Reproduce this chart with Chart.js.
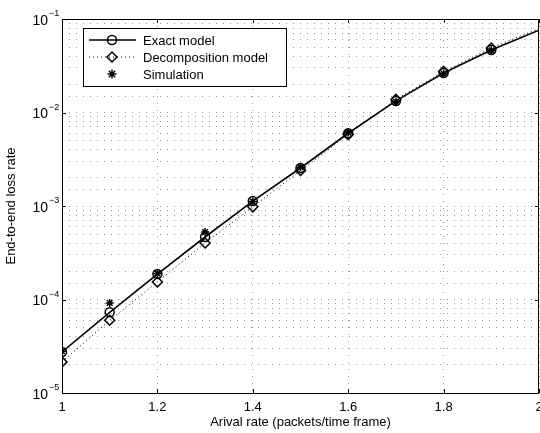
<!DOCTYPE html>
<html lang="en">
<head>
    <meta charset="UTF-8">
    <script src="https://cdn.jsdelivr.net/npm/chart.js"></script>
    <style>
        body {
            margin: 0;
            padding: 0;
            background: white;
        }

        #wrap {
            width: 540px;
            height: 433px;
        }
    </style>
    <title>End-to-end loss rate</title>
</head>
<body>
    <div id="wrap"><canvas id="lossChart" width="540" height="433"></canvas></div>
    <script>
        // arrival rate (packets/time frame)
        const arrivalRates = [1.0, 1.1, 1.2, 1.3, 1.4, 1.5, 1.6, 1.7, 1.8, 1.9, 2.0];

        // end-to-end loss rate per model
        const exactModel = [2.75e-5, 7.3e-5, 1.87e-4, 4.66e-4, 1.13e-3, 2.55e-3, 6.0e-3, 1.33e-2, 2.64e-2, 4.66e-2, 7.6e-2];
        const decompositionModel = [2.15e-5, 6.0e-5, 1.54e-4, 4.02e-4, 9.8e-4, 2.4e-3, 5.8e-3, 1.38e-2, 2.75e-2, 4.9e-2, 7.9e-2];
        const simulation = [2.8e-5, 9.2e-5, 1.9e-4, 5.26e-4, 1.12e-3, 2.6e-3, 6.1e-3, 1.3e-2, 2.6e-2, 4.6e-2, null];

        const seriesNames = ["Exact model", "Decomposition model", "Simulation"];
        const yDecades = [-5, -4, -3, -2, -1];
        const xTicks = [1, 1.2, 1.4, 1.6, 1.8, 2];

        const FONT = "'Liberation Sans', Arial, sans-serif";

        function toPoints(values) {
            return arrivalRates.map((x, i) => ({ x: x, y: values[i] }));
        }

        // no marker at the clipped right edge
        const markerRadius = arrivalRates.map(x => (x >= 2 ? 0 : 4.5));

        // frame, decade labels with superscripts, legend box
        const matlabLook = {
            id: "matlabLook",
            afterDraw(chart) {
                const ctx = chart.ctx;
                const area = chart.chartArea;
                const yScale = chart.scales.y;
                const xScale = chart.scales.x;

                ctx.save();
                ctx.strokeStyle = "#000";
                ctx.lineWidth = 1;
                ctx.strokeRect(area.left + 0.5, area.top + 0.5, area.right - area.left - 1, area.bottom - area.top);

                // short inward tick marks
                ctx.beginPath();
                xTicks.forEach(v => {
                    const px = Math.round(xScale.getPixelForValue(v)) + 0.5;
                    ctx.moveTo(px, area.bottom);
                    ctx.lineTo(px, area.bottom - 4);
                    ctx.moveTo(px, area.top);
                    ctx.lineTo(px, area.top + 4);
                });
                yDecades.forEach(e => {
                    const py = Math.round(yScale.getPixelForValue(Math.pow(10, e))) + 0.5;
                    ctx.moveTo(area.left, py);
                    ctx.lineTo(area.left + 4, py);
                    ctx.moveTo(area.right, py);
                    ctx.lineTo(area.right - 4, py);
                });
                ctx.stroke();

                // y tick labels: 10^n
                ctx.fillStyle = "#000";
                ctx.textBaseline = "middle";
                yDecades.forEach(e => {
                    const py = yScale.getPixelForValue(Math.pow(10, e));
                    ctx.font = "14px " + FONT;
                    ctx.textAlign = "right";
                    ctx.fillText("10", 48, py + 2);
                    ctx.font = "9px " + FONT;
                    ctx.textAlign = "left";
                    ctx.fillText("\u2212" + Math.abs(e), 49, py - 5);
                });

                // legend
                const box = { left: 83, top: 28, right: 286, bottom: 86 };
                ctx.fillStyle = "#fff";
                ctx.fillRect(box.left, box.top, box.right - box.left, box.bottom - box.top);
                ctx.strokeStyle = "#000";
                ctx.lineWidth = 1;
                ctx.strokeRect(box.left + 0.5, box.top + 0.5, box.right - box.left, box.bottom - box.top);

                const rows = [40, 57, 74];
                chart.data.datasets.forEach((ds, i) => {
                    const y = rows[i];
                    if (ds.showLine !== false) {
                        ctx.save();
                        ctx.strokeStyle = "#000";
                        ctx.lineWidth = ds.borderWidth;
                        ctx.setLineDash(ds.borderDash || []);
                        ctx.beginPath();
                        ctx.moveTo(89, y);
                        ctx.lineTo(136, y);
                        ctx.stroke();
                        ctx.restore();
                    }
                    ctx.save();
                    ctx.fillStyle = "rgba(0,0,0,0)";
                    ctx.strokeStyle = "#000";
                    ctx.lineWidth = ds.pointBorderWidth;
                    Chart.helpers.drawPoint(ctx, {
                        pointStyle: ds.pointStyle,
                        radius: i === 1 ? 5 : 4.5,
                        borderWidth: ds.pointBorderWidth
                    }, 112, y);
                    ctx.restore();
                    ctx.fillStyle = "#000";
                    ctx.font = "13px " + FONT;
                    ctx.textAlign = "left";
                    ctx.textBaseline = "middle";
                    ctx.fillText(seriesNames[i], 143, y + 1);
                });
                ctx.restore();
            }
        };

        // MATLAB-style dotted grid
        const gridStyle = {
            color: "rgba(0, 0, 0, 0.42)",
            lineWidth: 1,
            drawTicks: false
        };
        const gridBorder = { display: false, dash: [1, 6] };

        new Chart(document.getElementById("lossChart"), {
            type: "line",
            data: {
                datasets: [{
                    label: seriesNames[0],
                    data: toPoints(exactModel),
                    borderColor: "#000",
                    backgroundColor: "rgba(0,0,0,0)",
                    borderWidth: 1.6,
                    pointStyle: "circle",
                    pointRadius: markerRadius,
                    pointBorderWidth: 1.5,
                    pointBorderColor: "#000",
                    pointBackgroundColor: "rgba(0,0,0,0)",
                    tension: 0
                }, {
                    label: seriesNames[1],
                    data: toPoints(decompositionModel),
                    borderColor: "#000",
                    backgroundColor: "rgba(0,0,0,0)",
                    borderWidth: 1,
                    borderDash: [1, 3],
                    pointStyle: "rectRot",
                    pointRadius: markerRadius.map(r => (r ? 5 : 0)),
                    pointBorderWidth: 1.5,
                    pointBorderColor: "#000",
                    pointBackgroundColor: "rgba(0,0,0,0)",
                    tension: 0
                }, {
                    label: seriesNames[2],
                    data: toPoints(simulation),
                    showLine: false,
                    borderColor: "#000",
                    borderWidth: 1,
                    pointStyle: "star",
                    pointRadius: 4,
                    pointBorderWidth: 1.5,
                    pointBorderColor: "#000"
                }]
            },
            options: {
                responsive: false,
                animation: false,
                layout: {
                    autoPadding: false,
                    padding: { top: 19, right: 1, left: 0, bottom: 0 }
                },
                plugins: {
                    legend: { display: false },
                    tooltip: { enabled: false }
                },
                scales: {
                    x: {
                        type: "linear",
                        min: 1,
                        max: 2,
                        afterBuildTicks: scale => {
                            scale.ticks = xTicks.map(v => ({ value: v }));
                        },
                        afterFit: scale => {
                            scale.height = 40;
                            scale.paddingLeft = 0;
                            scale.paddingRight = 0;
                        },
                        border: gridBorder,
                        grid: gridStyle,
                        ticks: {
                            color: "#000",
                            padding: 7,
                            maxRotation: 0,
                            autoSkip: false,
                            font: { family: FONT, size: 13 },
                            callback: v => String(v)
                        },
                        title: {
                            display: true,
                            text: "Arival rate (packets/time frame)",
                            color: "#000",
                            font: { family: FONT, size: 13 },
                            padding: { top: 0, bottom: 3 }
                        }
                    },
                    y: {
                        type: "logarithmic",
                        min: 1e-5,
                        max: 1e-1,
                        afterFit: scale => {
                            scale.width = 62;
                            scale.paddingTop = 0;
                            scale.paddingBottom = 0;
                        },
                        border: gridBorder,
                        grid: gridStyle,
                        ticks: {
                            display: false,
                            autoSkip: false
                        },
                        title: {
                            display: true,
                            text: "End-to-end loss rate",
                            color: "#000",
                            font: { family: FONT, size: 13 },
                            padding: { top: 4, bottom: 0 }
                        }
                    }
                }
            },
            plugins: [matlabLook]
        });
    </script>
</body>
</html>
